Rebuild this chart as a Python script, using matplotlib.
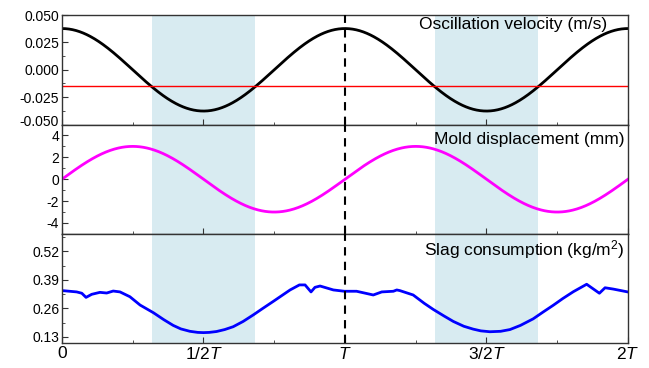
import numpy as np
import matplotlib.pyplot as plt
import matplotlib.transforms as mtransforms
from matplotlib.ticker import MultipleLocator

plt.rcParams['font.family'] = ['Liberation Sans', 'DejaVu Sans']
plt.rcParams['mathtext.fontset'] = 'custom'
plt.rcParams['mathtext.it'] = 'Liberation Sans:italic'
plt.rcParams['mathtext.rm'] = 'Liberation Sans'
plt.rcParams['axes.unicode_minus'] = False

# oscillation parameters
stroke_mm = 3.0          # mold displacement amplitude
freq_hz = 2.0            # oscillation frequency
casting_speed = 0.015    # m/s (red line drawn at -vc)

# slag consumption over two periods (t/T, kg/m2)
slag_t = [0.001, 0.052, 0.070, 0.085, 0.105, 0.134, 0.158, 0.181, 0.205, 0.240,
          0.276, 0.323, 0.360, 0.393, 0.420, 0.452, 0.480, 0.500, 0.520, 0.546,
          0.575, 0.605, 0.640, 0.676, 0.710, 0.747,
          0.806, 0.839, 0.859, 0.880, 0.894, 0.912, 0.959, 0.998, 1.041, 1.100,
          1.130, 1.171, 1.183, 1.194, 1.241, 1.280, 1.312, 1.350, 1.383, 1.420,
          1.453, 1.480, 1.512, 1.550, 1.583, 1.620, 1.665, 1.700, 1.736, 1.770,
          1.807, 1.854, 1.899, 1.919, 1.948, 1.999]
slag_val = [0.341, 0.335, 0.329, 0.310, 0.324, 0.333, 0.330, 0.339, 0.335, 0.313,
            0.275, 0.240, 0.208, 0.182, 0.166, 0.155, 0.150, 0.149, 0.150, 0.154,
            0.163, 0.176, 0.200, 0.230, 0.260, 0.292,
            0.344, 0.367, 0.367, 0.335, 0.356, 0.362, 0.344, 0.338, 0.338, 0.321,
            0.335, 0.338, 0.344, 0.341, 0.321, 0.283, 0.255, 0.225, 0.200, 0.178,
            0.165, 0.157, 0.153, 0.155, 0.163, 0.182, 0.212, 0.243, 0.274, 0.305,
            0.336, 0.370, 0.329, 0.354, 0.348, 0.335]

xtick_pos = [0, 0.5, 1, 1.5, 2]
xtick_lab = ['0', '1/2$T$', '$T$', '3/2$T$', '2$T$']

t = np.linspace(0, 2, 801)              # in units of T
omega = 2 * np.pi * freq_hz
disp = stroke_mm * np.sin(2 * np.pi * t)
vel = omega * stroke_mm / 1000 * np.cos(2 * np.pi * t)

# negative strip: mold moving down faster than the strand
neg = vel < -casting_speed
edges = np.flatnonzero(np.diff(neg.astype(int)))
strips = list(zip(t[edges[0::2] + 1], t[edges[1::2]]))

fig = plt.figure(figsize=(6.49, 3.68), dpi=100)
left, right, top, bottom = 0.0955, 0.9676, 0.959, 0.067
h = (top - bottom) / 3
axes = [fig.add_axes([left, top - (i + 1) * h, right - left, h]) for i in range(3)]

shade = '#d8ebf1'
for ax in axes:
    for a, b in strips:
        ax.axvspan(a, b, color=shade, lw=0, zorder=0)
    ax.axvline(1, color='black', ls=(0, (4, 3)), lw=1.5, zorder=3)
    ax.set_xlim(0, 2)
    ax.xaxis.set_major_locator(MultipleLocator(0.5))
    ax.xaxis.set_minor_locator(MultipleLocator(0.25))
    ax.tick_params(which='both', direction='in', top=False, right=False,
                   labelsize=10, pad=2, color='#333333')
    ax.tick_params(which='major', length=4)
    ax.tick_params(which='minor', length=2.5)
    for s in ax.spines.values():
        s.set_color('#333333')
        s.set_linewidth(1.0)

ax1, ax2, ax3 = axes

ax1.plot(t, vel, color='black', lw=2)
ax1.axhline(-casting_speed, color='red', lw=1)
ax1.set_ylim(-0.05, 0.05)
ax1.set_yticks([-0.05, -0.025, 0, 0.025, 0.05])
ax1.set_yticklabels(['-0.050', '-0.025', '0.000', '0.025', '0.050'])
ax1.yaxis.set_minor_locator(MultipleLocator(0.0125))
ax1.text(0.963, 0.869, 'Oscillation velocity (m/s)', transform=ax1.transAxes,
         ha='right', va='baseline', fontsize=12.5)

# lift the bottom label a little so it clears the "4" of the panel below
lab = ax1.get_yticklabels()[0]
lab.set_transform(lab.get_transform() +
                  mtransforms.ScaledTranslation(0, 3 / 72, fig.dpi_scale_trans))

ax2.plot(t, disp, color='#ff00ff', lw=2)
ax2.set_ylim(-5, 5)
ax2.set_yticks([-4, -2, 0, 2, 4])
ax2.yaxis.set_minor_locator(MultipleLocator(1))
ax2.text(0.994, 0.822, 'Mold displacement (mm)', transform=ax2.transAxes,
         ha='right', va='baseline', fontsize=12.5)

ax3.plot(slag_t, slag_val, color='#0000ff', lw=2)
ax3.set_ylim(0.1, 0.6)
ax3.set_yticks([0.13, 0.26, 0.39, 0.52])
ax3.set_yticks([0.195, 0.325, 0.455, 0.585], minor=True)
ax3.text(0.994, 0.808, 'Slag consumption (kg/m$^2$)', transform=ax3.transAxes,
         ha='right', va='baseline', fontsize=12.5)

for ax in (ax1, ax2):
    ax.tick_params(labelbottom=False)
ax3.set_xticks(xtick_pos)
ax3.set_xticklabels(xtick_lab, fontsize=12.5)

fig.savefig('out.png', dpi=100)
